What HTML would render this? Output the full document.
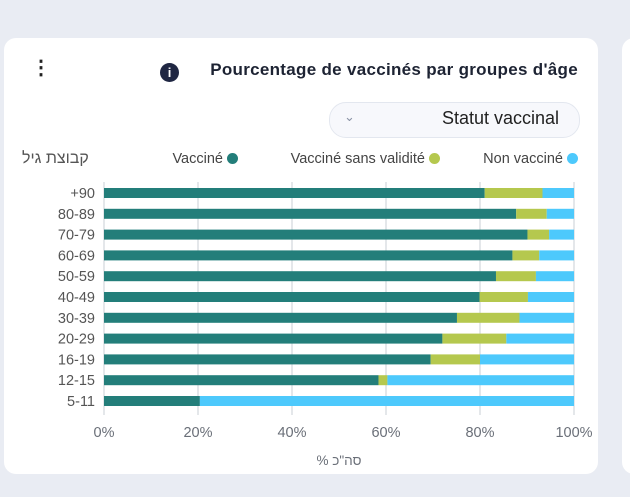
<!DOCTYPE html>
<html><head><meta charset="utf-8"><style>
body{margin:0;width:630px;height:497px;background:#e9ecf3;font-family:"Liberation Sans","Noto Sans CJK SC",sans-serif;position:relative;overflow:hidden}
.card{position:absolute;left:4px;top:38px;width:594px;height:436px;background:#fff;border-radius:12px}
.card2{position:absolute;left:622px;top:38px;width:40px;height:436px;background:#fff;border-radius:12px}
.t{position:absolute;white-space:nowrap}
</style></head><body>
<div class="card"></div><div class="card2"></div>
<div class="t" style="left:31px;top:58px;font-size:20px;line-height:20px;color:#222;font-weight:bold">⋮</div>
<div style="position:absolute;left:160px;top:63px;width:19px;height:19px;border-radius:50%;background:#1f2642;color:#fff;font-size:13px;font-weight:bold;text-align:center;line-height:19px">i</div>
<div class="t" style="right:52px;top:60px;font-size:17px;font-weight:bold;color:#1d2333;letter-spacing:0.3px">Pourcentage de vaccinés par groupes d'âge</div>
<div style="position:absolute;left:329px;top:102px;width:249px;height:34px;border:1px solid #e3e7ef;border-radius:17px;background:#f7f8fc"></div>
<div class="t" style="left:344px;top:109px;font-size:13px;color:#8a93a6">⌄</div>
<div class="t" style="right:71px;top:108px;font-size:18px;color:#222">Statut vaccinal</div>
<div class="t" style="left:22px;top:150px;font-size:16px;color:#555">קבוצת גיל</div>
<div class="t" style="right:392px;top:151px;font-size:14.5px;color:#444">Vacciné <span style="display:inline-block;width:11px;height:11px;border-radius:50%;background:#237e7a;vertical-align:-1px"></span></div>
<div class="t" style="right:190px;top:151px;font-size:14.5px;color:#444">Vacciné sans validité <span style="display:inline-block;width:11px;height:11px;border-radius:50%;background:#b5c84e;vertical-align:-1px"></span></div>
<div class="t" style="right:52px;top:151px;font-size:14.5px;color:#444">Non vacciné <span style="display:inline-block;width:11px;height:11px;border-radius:50%;background:#4dc9fc;vertical-align:-1px"></span></div>
<svg width="630" height="497" style="position:absolute;left:0;top:0" font-family="Liberation Sans, sans-serif">
<g stroke="#dcdfe4" stroke-width="1.5">
<line x1="104" y1="182" x2="104" y2="415"/><line x1="198" y1="182" x2="198" y2="415"/><line x1="292" y1="182" x2="292" y2="415"/><line x1="386" y1="182" x2="386" y2="415"/><line x1="480" y1="182" x2="480" y2="415"/><line x1="574" y1="182" x2="574" y2="415"/>
</g>
<g id="bars"></g>
<g font-size="14.5" fill="#6a6f78" text-anchor="middle">
<text x="104" y="437">0%</text><text x="198" y="437">20%</text><text x="292" y="437">40%</text><text x="386" y="437">60%</text><text x="480" y="437">80%</text><text x="574" y="437">100%</text>
<text x="339" y="465" font-size="13.5">% סה"כ</text>
</g>
<g font-size="14.5" fill="#555" text-anchor="end" id="lbl"></g>
</svg>
<script>
var d=[["+90",81,93.3],["80-89",87.7,94.2],["70-79",90.1,94.7],["60-69",86.9,92.6],["50-59",83.4,91.9],["40-49",79.9,90.2],["30-39",75.1,88.4],["20-29",72,85.6],["16-19",69.5,80],["12-15",58.4,60.3],["5-11",20.4,20.4]];
var s="",l="";
d.forEach(function(r,i){var cy=193+i*20.8,y=cy-5,w=4.7;
s+='<rect x="104" y="'+y+'" width="'+(r[1]*w)+'" height="10" fill="#237e7a"/>';
s+='<rect x="'+(104+r[1]*w)+'" y="'+y+'" width="'+((r[2]-r[1])*w)+'" height="10" fill="#b5c84e"/>';
s+='<rect x="'+(104+r[2]*w)+'" y="'+y+'" width="'+((100-r[2])*w)+'" height="10" fill="#4dc9fc"/>';
l+='<text x="95" y="'+(cy+5)+'">'+r[0]+'</text>';});
document.getElementById("bars").innerHTML=s;document.getElementById("lbl").innerHTML=l;
</script>
</body></html>
